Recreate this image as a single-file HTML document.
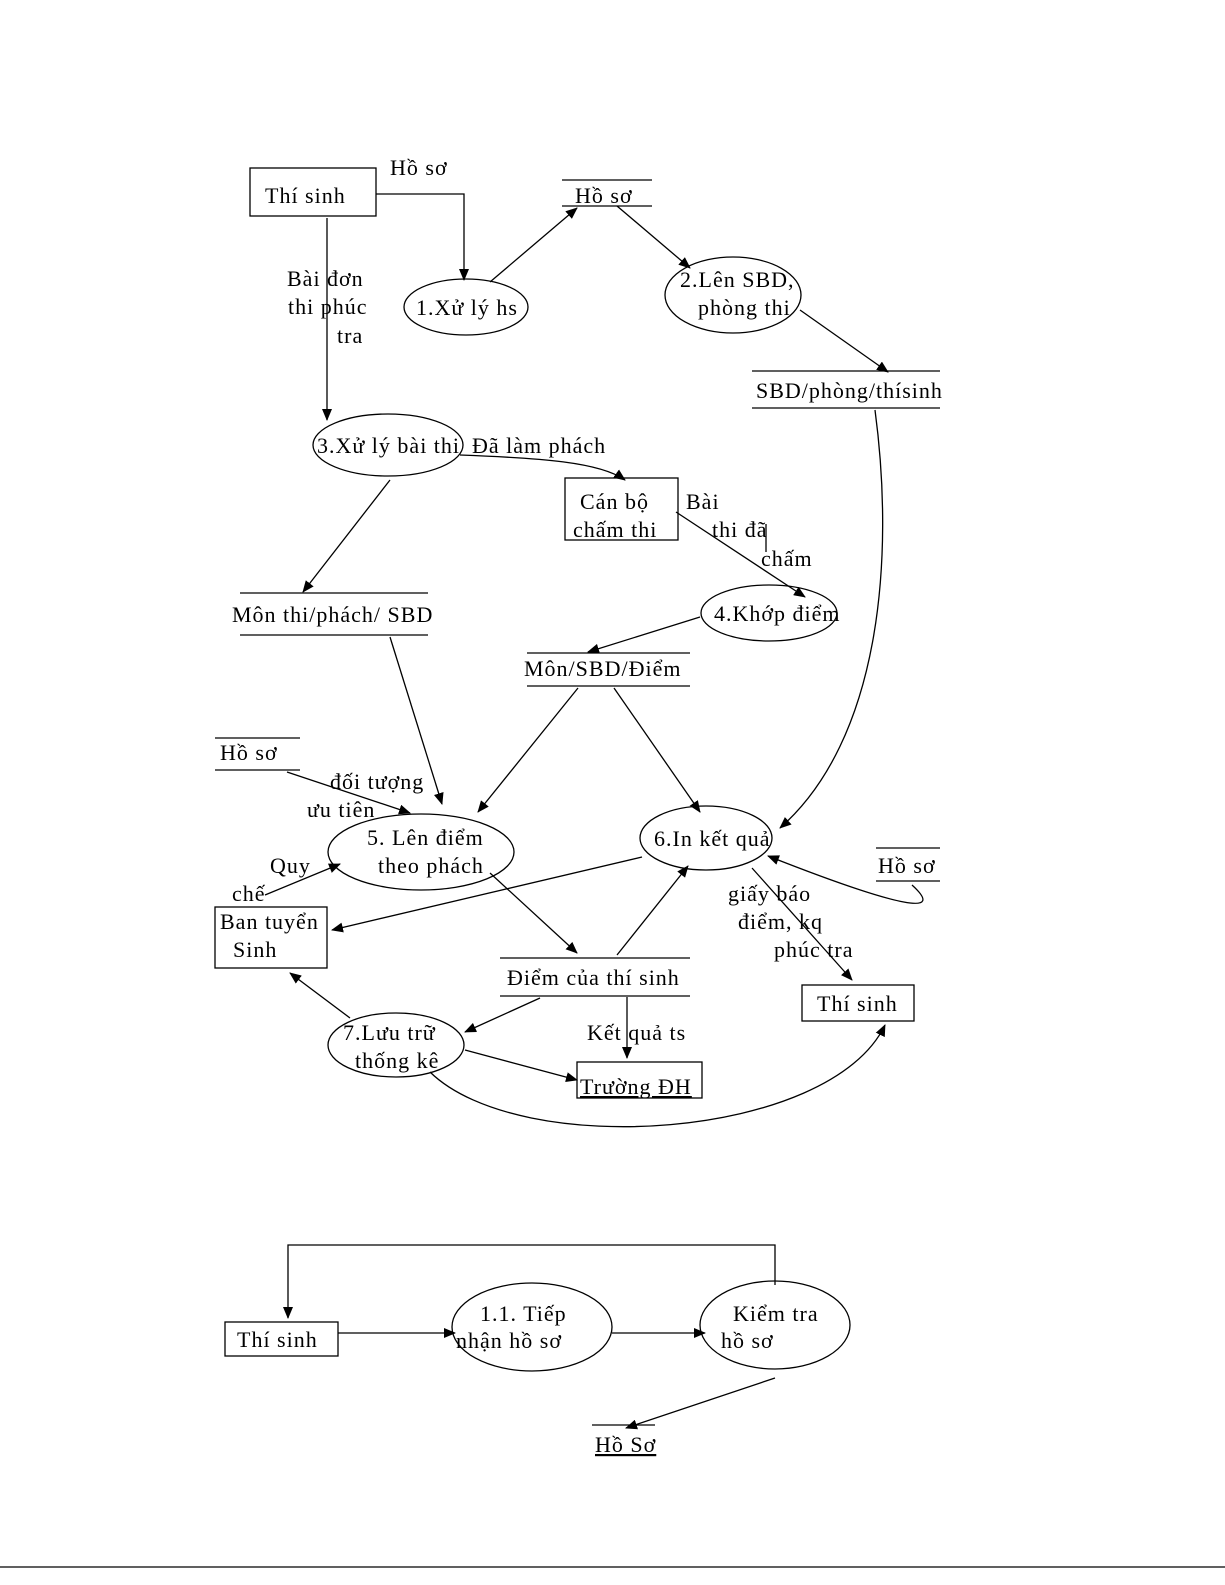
<!DOCTYPE html>
<html><head><meta charset="utf-8">
<style>
html,body{margin:0;padding:0;background:#fff;}
svg{display:block;}
text{font-family:"Liberation Serif","DejaVu Serif",serif;font-size:22px;letter-spacing:1px;fill:#000;}
</style></head>
<body>
<svg width="1225" height="1585" viewBox="0 0 1225 1585" xmlns="http://www.w3.org/2000/svg">
<defs>
<marker id="a" markerWidth="12" markerHeight="10" refX="11" refY="5" orient="auto" markerUnits="userSpaceOnUse">
<path d="M0,0 L12,5 L0,10 Z" fill="#000"/>
</marker>
</defs>
<g stroke="#000" stroke-width="1.3" fill="none">
<rect x="250" y="168" width="126" height="48"/>
<polyline points="376,194 464,194 464,280" marker-end="url(#a)"/>
<ellipse cx="466" cy="307" rx="62" ry="28"/>
<line x1="490" y1="282" x2="577" y2="208" marker-end="url(#a)"/>
<line x1="562" y1="180" x2="652" y2="180"/><line x1="562" y1="206" x2="652" y2="206"/>
<line x1="617" y1="206" x2="690" y2="268" marker-end="url(#a)"/>
<ellipse cx="733" cy="295" rx="68" ry="38"/>
<line x1="800" y1="310" x2="888" y2="372" marker-end="url(#a)"/>
<line x1="752" y1="371" x2="940" y2="371"/><line x1="752" y1="408" x2="940" y2="408"/>
<path d="M875,410 C895,560 880,740 780,828" marker-end="url(#a)"/>
<line x1="327" y1="218" x2="327" y2="420" marker-end="url(#a)"/>
<ellipse cx="388" cy="445" rx="75" ry="31"/>
<path d="M460,455 C540,458 600,462 625,480" marker-end="url(#a)"/>
<rect x="565" y="478" width="113" height="62"/>
<line x1="766" y1="524" x2="766" y2="552"/>
<line x1="676" y1="512" x2="805" y2="597" marker-end="url(#a)"/>
<ellipse cx="769" cy="613" rx="68" ry="28"/>
<line x1="390" y1="480" x2="303" y2="592" marker-end="url(#a)"/>
<line x1="240" y1="593" x2="428" y2="593"/><line x1="240" y1="635" x2="428" y2="635"/>
<line x1="700" y1="617" x2="588" y2="652" marker-end="url(#a)"/>
<line x1="527" y1="653" x2="690" y2="653"/><line x1="527" y1="686" x2="690" y2="686"/>
<line x1="578" y1="688" x2="478" y2="812" marker-end="url(#a)"/>
<line x1="614" y1="688" x2="700" y2="812" marker-end="url(#a)"/>
<line x1="390" y1="637" x2="442" y2="804" marker-end="url(#a)"/>
<line x1="215" y1="738" x2="300" y2="738"/><line x1="215" y1="770" x2="300" y2="770"/>
<line x1="287" y1="772" x2="410" y2="813" marker-end="url(#a)"/>
<ellipse cx="421" cy="852" rx="93" ry="38"/>
<ellipse cx="706" cy="838" rx="66" ry="32"/>
<line x1="876" y1="848" x2="940" y2="848"/><line x1="876" y1="881" x2="940" y2="881"/>
<path d="M912,885 C945,915 905,910 768,856" marker-end="url(#a)"/>
<rect x="215" y="907" width="112" height="61"/>
<line x1="265" y1="895" x2="340" y2="864" marker-end="url(#a)"/>
<line x1="642" y1="857" x2="332" y2="930" marker-end="url(#a)"/>
<line x1="490" y1="873" x2="577" y2="953" marker-end="url(#a)"/>
<line x1="617" y1="955" x2="688" y2="866" marker-end="url(#a)"/>
<line x1="752" y1="868" x2="852" y2="980" marker-end="url(#a)"/>
<rect x="802" y="985" width="112" height="36"/>
<line x1="500" y1="958" x2="690" y2="958"/><line x1="500" y1="996" x2="690" y2="996"/>
<line x1="627" y1="997" x2="627" y2="1058" marker-end="url(#a)"/>
<line x1="540" y1="998" x2="465" y2="1032" marker-end="url(#a)"/>
<ellipse cx="396" cy="1045" rx="68" ry="32"/>
<line x1="350" y1="1018" x2="290" y2="973" marker-end="url(#a)"/>
<line x1="465" y1="1050" x2="577" y2="1080" marker-end="url(#a)"/>
<rect x="577" y="1062" width="125" height="36"/>
<path d="M430,1072 C520,1160 830,1140 885,1025" marker-end="url(#a)"/>
<polyline points="775,1285 775,1245 288,1245 288,1318" marker-end="url(#a)"/>
<rect x="225" y="1322" width="113" height="34"/>
<line x1="338" y1="1333" x2="455" y2="1333" marker-end="url(#a)"/>
<ellipse cx="532" cy="1327" rx="80" ry="44"/>
<line x1="612" y1="1333" x2="705" y2="1333" marker-end="url(#a)"/>
<ellipse cx="775" cy="1325" rx="75" ry="44"/>
<line x1="775" y1="1378" x2="626" y2="1428" marker-end="url(#a)"/>
<line x1="592" y1="1425" x2="655" y2="1425"/>
<line x1="0" y1="1567" x2="1225" y2="1567"/>
</g>
<text x="265" y="203">Thí sinh</text>
<text x="390" y="175">Hồ sơ</text>
<text x="575" y="203">Hồ sơ</text>
<text x="416" y="315">1.Xử lý hs</text>
<text x="680" y="287">2.Lên SBD,</text>
<text x="698" y="315">phòng thi</text>
<text x="756" y="398">SBD/phòng/thísinh</text>
<text x="287" y="286">Bài  đơn</text>
<text x="288" y="314">thi  phúc</text>
<text x="337" y="343">tra</text>
<text x="317" y="453">3.Xử lý bài thi</text>
<text x="472" y="453">Đã làm phách</text>
<text x="580" y="509">Cán bộ</text>
<text x="573" y="537">chấm thi</text>
<text x="686" y="509">Bài</text>
<text x="712" y="537">thi đã</text>
<text x="761" y="566">chấm</text>
<text x="714" y="621">4.Khớp điểm</text>
<text x="232" y="622">Môn thi/phách/ SBD</text>
<text x="524" y="676">Môn/SBD/Điểm</text>
<text x="220" y="760">Hồ sơ</text>
<text x="330" y="789">đối tượng</text>
<text x="307" y="817">ưu tiên</text>
<text x="367" y="845">5. Lên điểm</text>
<text x="378" y="873">theo phách</text>
<text x="654" y="846">6.In kết quả</text>
<text x="878" y="873">Hồ sơ</text>
<text x="270" y="873">Quy</text>
<text x="232" y="901">chế</text>
<text x="220" y="929">Ban tuyển</text>
<text x="233" y="957">Sinh</text>
<text x="728" y="901">giấy  báo</text>
<text x="738" y="929">điểm,   kq</text>
<text x="774" y="957">phúc  tra</text>
<text x="817" y="1011">Thí sinh</text>
<text x="507" y="985">Điểm của thí sinh</text>
<text x="587" y="1040">Kết  quả ts</text>
<text x="343" y="1040">7.Lưu trữ</text>
<text x="355" y="1068">thống kê</text>
<text x="580" y="1094" text-decoration="underline">Trường ĐH</text>
<text x="237" y="1347">Thí sinh</text>
<text x="480" y="1321">1.1.     Tiếp</text>
<text x="456" y="1348">nhận hồ sơ</text>
<text x="733" y="1321">Kiểm tra</text>
<text x="721" y="1348">hồ sơ</text>
<text x="595" y="1452" text-decoration="underline">Hồ Sơ</text>
</svg>
</body></html>
